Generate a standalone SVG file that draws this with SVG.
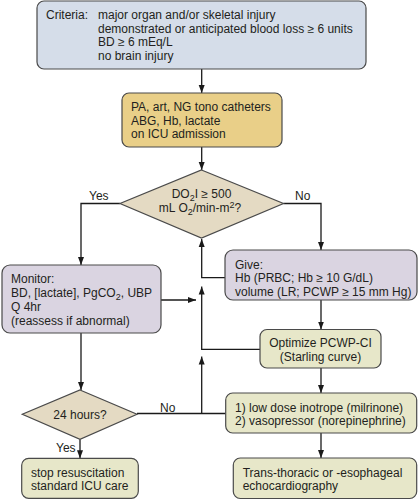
<svg xmlns="http://www.w3.org/2000/svg" width="418" height="500" viewBox="0 0 418 500">
<style>
text{font-family:"Liberation Sans",Arial,sans-serif;font-size:12px;fill:#231f20}
.c{text-anchor:middle}
.box{stroke:#4a4a4a;stroke-width:1.2}
.blue{fill:#d5dde9}
.gold{fill:#e9cf88}
.beige{fill:#e4dac3}
.lav{fill:#dad4e1}
.olive{fill:#e7e7c9}
.ln{fill:none;stroke:#1a1a1a;stroke-width:1.3}
</style>
<defs>
<marker id="ah" markerUnits="userSpaceOnUse" markerWidth="8" markerHeight="8" viewBox="0 0 8 8" refX="8" refY="4" orient="auto">
<path d="M0,1 L8,4 L0,7 Z" fill="#1a1a1a"/>
</marker>
</defs>
<rect width="418" height="500" fill="#ffffff"/>
<g id="connectors">
<line class="ln" x1="201.7" y1="69" x2="201.7" y2="93" marker-end="url(#ah)"/>
<line class="ln" x1="201.7" y1="147" x2="201.7" y2="170" marker-end="url(#ah)"/>
<polyline class="ln" points="120,203.5 81,203.5 81,265" marker-end="url(#ah)"/>
<polyline class="ln" points="283.5,203.5 321,203.5 321,250" marker-end="url(#ah)"/>
<polyline class="ln" points="225,277.7 201.7,277.7 201.7,239" marker-end="url(#ah)"/>
<line class="ln" x1="161" y1="300" x2="196" y2="300" marker-end="url(#ah)"/>
<polyline class="ln" points="260,349.3 201.7,349.3 201.7,286.5" marker-end="url(#ah)"/>
<line class="ln" x1="201.7" y1="413.5" x2="201.7" y2="356.5" marker-end="url(#ah)"/>
<line class="ln" x1="321" y1="300" x2="321" y2="329.5" marker-end="url(#ah)"/>
<line class="ln" x1="321" y1="368" x2="321" y2="393" marker-end="url(#ah)"/>
<line class="ln" x1="321" y1="433" x2="321" y2="458" marker-end="url(#ah)"/>
<line class="ln" x1="81" y1="333" x2="81" y2="390" marker-end="url(#ah)"/>
<line class="ln" x1="137" y1="413.5" x2="225.7" y2="413.5"/>
<line class="ln" x1="80" y1="439.3" x2="80" y2="458.3" marker-end="url(#ah)"/>
<text x="89" y="200">Yes</text>
<text x="295" y="200">No</text>
<text x="160" y="411.5">No</text>
<text x="56" y="451.7">Yes</text>
</g>
<g id="criteria">
<rect class="box blue" x="37" y="1" width="329" height="68" rx="7"/>
<text x="46" y="19">Criteria:</text>
<text x="98" y="19">major organ and/or skeletal injury</text>
<text x="98" y="32.6">demonstrated or anticipated blood loss ≥ 6 units</text>
<text x="98" y="46.2">BD ≥ 6 mEq/L</text>
<text x="98" y="59.8">no brain injury</text>
</g>
<g id="catheters">
<rect class="box gold" x="122" y="93" width="160" height="54" rx="7"/>
<text x="131" y="111">PA, art, NG tono catheters</text>
<text x="131" y="124.6">ABG, Hb, lactate</text>
<text x="131" y="138.2">on ICU admission</text>
</g>
<g id="do2i">
<polygon class="box beige" points="201.5,170 283.5,203.5 201.5,238 120,203.5"/>
<text class="c" x="201.5" y="198">DO<tspan font-size="9" dy="3">2</tspan><tspan dy="-3">I ≥ 500</tspan></text>
<text class="c" x="200" y="211.5">mL O<tspan font-size="9" dy="3">2</tspan><tspan dy="-3">/min-m</tspan><tspan font-size="9" dy="-4">2</tspan><tspan dy="4">?</tspan></text>
</g>
<g id="monitor">
<rect class="box lav" x="2" y="265" width="159" height="68" rx="8"/>
<text x="11" y="283.3">Monitor:</text>
<text x="11" y="297.2">BD, [lactate], PgCO<tspan font-size="9" dy="3">2</tspan><tspan dy="-3">, UBP</tspan></text>
<text x="11" y="311">Q 4hr</text>
<text x="11" y="324.6">(reassess if abnormal)</text>
</g>
<g id="give">
<rect class="box lav" x="225" y="250" width="192" height="50" rx="8"/>
<text x="235" y="268.7">Give:</text>
<text x="235" y="282.2">Hb (PRBC; Hb ≥ 10 G/dL)</text>
<text x="235" y="295.7">volume (LR; PCWP ≥ 15 mm Hg)</text>
</g>
<g id="optimize">
<rect class="box olive" x="260" y="329.5" width="121" height="38.5" rx="7"/>
<text class="c" x="320.5" y="347">Optimize PCWP-CI</text>
<text class="c" x="320.5" y="360.5">(Starling curve)</text>
</g>
<g id="inotrope">
<rect class="box olive" x="225.7" y="393" width="191" height="40" rx="7"/>
<text x="235" y="411.7">1) low dose inotrope (milrinone)</text>
<text x="235" y="425.2">2) vasopressor (norepinephrine)</text>
</g>
<g id="hours24">
<polygon class="box beige" points="80,390 137,414.3 80,439.3 22.3,414.3"/>
<text class="c" x="80" y="418.5">24 hours?</text>
</g>
<g id="stop">
<rect class="box olive" x="21.7" y="458.3" width="116.6" height="40" rx="7"/>
<text x="31" y="476.7">stop resuscitation</text>
<text x="31" y="490">standard ICU care</text>
</g>
<g id="echo">
<rect class="box olive" x="233.3" y="458" width="183.4" height="40.5" rx="7"/>
<text x="242.7" y="476.7">Trans-thoracic or -esophageal</text>
<text x="242.7" y="490">echocardiography</text>
</g>
</svg>
